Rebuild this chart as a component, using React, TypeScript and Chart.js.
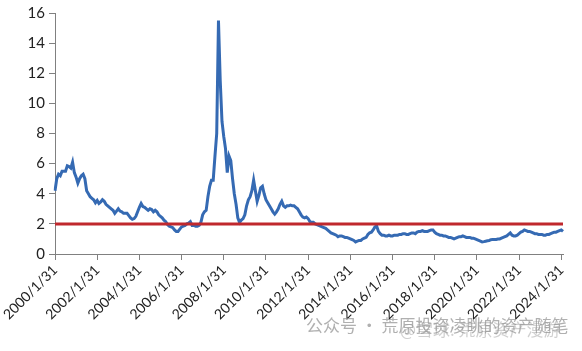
import React, { useEffect, useRef } from "react";
import { Chart, registerables } from "chart.js";

Chart.register(...registerables);

// Monthly series, 2000/1 .. 2024/2 (month-end)
const START_YEAR = 2000;
const values: number[] = [
  // 2000
  4.2, 5.0, 5.3, 5.2, 5.5, 5.5, 5.5, 5.85, 5.8, 5.7, 6.1, 5.4,
  // 2001
  5.1, 4.7, 5.0, 5.2, 5.3, 5.0, 4.2, 4.0, 3.8, 3.7, 3.6, 3.4,
  // 2002
  3.55, 3.35, 3.45, 3.6, 3.5, 3.3, 3.2, 3.1, 3.0, 2.9, 2.7, 2.85,
  // 2003
  3.0, 2.85, 2.8, 2.7, 2.7, 2.7, 2.55, 2.4, 2.3, 2.35, 2.5, 2.8,
  // 2004
  3.1, 3.35, 3.15, 3.1, 3.0, 2.9, 3.0, 2.95, 2.8, 2.9, 2.8, 2.6,
  // 2005
  2.5, 2.4, 2.25, 2.15, 1.95, 1.85, 1.8, 1.75, 1.6, 1.5, 1.5, 1.65,
  // 2006
  1.8, 1.85, 1.9, 2.0, 2.05, 2.15, 1.9, 1.9, 1.85, 1.85, 1.9, 2.1,
  // 2007
  2.6, 2.8, 2.9, 3.8, 4.5, 4.9, 4.9, 6.5, 8.0, 15.5, 11.5, 8.8,
  // 2008
  7.8, 7.0, 5.4, 6.5, 6.2, 5.0, 4.0, 3.3, 2.4, 2.1, 2.25, 2.35,
  // 2009
  2.6, 3.2, 3.6, 3.8, 4.2, 4.9, 4.2, 3.5, 3.9, 4.4, 4.5, 4.0,
  // 2010
  3.6, 3.4, 3.2, 3.0, 2.8, 2.65, 2.8, 3.0, 3.3, 3.5, 3.2, 3.1,
  // 2011
  3.2, 3.2, 3.25, 3.2, 3.2, 3.1, 3.0, 2.8, 2.6, 2.45, 2.4, 2.45,
  // 2012
  2.35, 2.15, 2.1, 2.1, 2.0, 1.95, 1.9, 1.85, 1.8, 1.75, 1.7, 1.6,
  // 2013
  1.5, 1.4, 1.35, 1.3, 1.25, 1.15, 1.2, 1.2, 1.15, 1.1, 1.1, 1.05,
  // 2014
  1.0, 0.95, 0.9, 0.8, 0.85, 0.9, 0.9, 1.0, 1.05, 1.1, 1.3, 1.4,
  // 2015
  1.45, 1.6, 1.8, 1.85, 1.5, 1.35, 1.25, 1.25, 1.2, 1.2, 1.25, 1.2,
  // 2016
  1.2, 1.25, 1.25, 1.25, 1.3, 1.3, 1.35, 1.35, 1.3, 1.3, 1.35, 1.4,
  // 2017
  1.4, 1.35, 1.45, 1.5, 1.5, 1.55, 1.5, 1.5, 1.5, 1.55, 1.6, 1.6,
  // 2018
  1.45, 1.35, 1.3, 1.25, 1.25, 1.2, 1.2, 1.15, 1.1, 1.1, 1.05, 1.0,
  // 2019
  1.05, 1.1, 1.15, 1.15, 1.2, 1.15, 1.1, 1.1, 1.1, 1.05, 1.05, 1.0,
  // 2020
  0.95, 0.9, 0.85, 0.8, 0.82, 0.85, 0.88, 0.9, 0.95, 0.97, 0.97, 0.97,
  // 2021
  1.0, 1.0, 1.05, 1.1, 1.15, 1.2, 1.3, 1.4, 1.25, 1.2, 1.2, 1.25,
  // 2022
  1.35, 1.45, 1.5, 1.6, 1.55, 1.5, 1.5, 1.45, 1.4, 1.35, 1.35, 1.3,
  // 2023
  1.3, 1.3, 1.25, 1.25, 1.3, 1.3, 1.35, 1.4, 1.45, 1.45, 1.5, 1.55,
  // 2024
  1.6, 1.5,
];

const THRESHOLD = 2;
const Y_TICKS = [0, 2, 4, 6, 8, 10, 12, 14, 16];
const TICK_EVERY = 24; // label every two years

const categories: string[] = values.map((_, i) => {
  const y = START_YEAR + Math.floor(i / 12);
  const m = (i % 12) + 1;
  const d = new Date(Date.UTC(y, m, 0)).getUTCDate();
  return `${y}/${m}/${d}`;
});
const thresholdLine: number[] = categories.map(() => THRESHOLD);

const WATERMARK_1 = "公众号 · 荒原投资凌眺的资产随笔";
const WATERMARK_2 = "@雪球: 荒原资产漫游";

const AXIS_COLOR = "#808080";
const TEXT_COLOR = "#222222";
const FONT = "Lato";

export default function App() {
  const ref = useRef<HTMLCanvasElement | null>(null);

  useEffect(() => {
    if (!ref.current) return;
    const watermark = {
      id: "watermark",
      afterDraw(chart: any) {
        const ctx = chart.ctx;
        ctx.save();
        ctx.textBaseline = "middle";
        ctx.textAlign = "left";
        ctx.font = '17px "Noto Sans CJK SC"';
        ctx.fillStyle = "rgba(150,150,150,0.75)";
        ctx.fillText(WATERMARK_1, 306, 326);
        ctx.fillStyle = "rgba(150,150,150,0.45)";
        ctx.fillText(WATERMARK_2, 400, 330);
        ctx.restore();
      },
    };
    const chart = new Chart(ref.current, {
      type: "line",
      data: {
        labels: categories,
        datasets: [
          {
            data: thresholdLine,
            borderColor: "#c0282d",
            borderWidth: 3,
            pointRadius: 0,
            fill: false,
          },
          {
            data: values,
            borderColor: "#356ab3",
            borderWidth: 3,
            pointRadius: 0,
            fill: false,
            tension: 0,
          },
        ],
      },
      options: {
        animation: false,
        responsive: false,
        maintainAspectRatio: false,
        layout: { padding: { top: 11, right: 19, left: 0, bottom: 0 } },
        plugins: {
          legend: { display: false },
          title: { display: false },
          tooltip: { enabled: false },
        },
        scales: {
          x: {
            type: "category",
            offset: false,
            afterFit: (s: any) => {
              s.height = 97;
            },
            grid: {
              drawOnChartArea: false,
              drawTicks: true,
              tickLength: 6,
              color: AXIS_COLOR,
              tickColor: (c: any) =>
                c.index % TICK_EVERY === 0 ? AXIS_COLOR : "rgba(0,0,0,0)",
            },
            border: { display: true, color: AXIS_COLOR, width: 1 },
            ticks: {
              autoSkip: false,
              maxRotation: 45,
              minRotation: 45,
              padding: 2,
              color: TEXT_COLOR,
              font: { family: FONT, size: 14 },
              callback: (_v: any, i: number) =>
                i % TICK_EVERY === 0 ? categories[i] : "",
            },
          },
          y: {
            min: Y_TICKS[0],
            max: Y_TICKS[Y_TICKS.length - 1],
            afterFit: (s: any) => {
              s.width = 55;
            },
            afterBuildTicks: (s: any) => {
              s.ticks = Y_TICKS.map((v) => ({ value: v }));
            },
            grid: {
              drawOnChartArea: false,
              drawTicks: true,
              tickLength: 6,
              color: AXIS_COLOR,
            },
            border: { display: true, color: AXIS_COLOR, width: 1 },
            ticks: {
              padding: 4,
              color: TEXT_COLOR,
              font: { family: FONT, size: 15 },
            },
          },
        },
      },
      plugins: [watermark],
    });
    return () => chart.destroy();
  }, []);

  return (
    <div style={{ position: "absolute", left: 0, top: 0, width: 582, height: 351, background: "#fff" }}>
      <canvas ref={ref} width={582} height={351} />
    </div>
  );
}
